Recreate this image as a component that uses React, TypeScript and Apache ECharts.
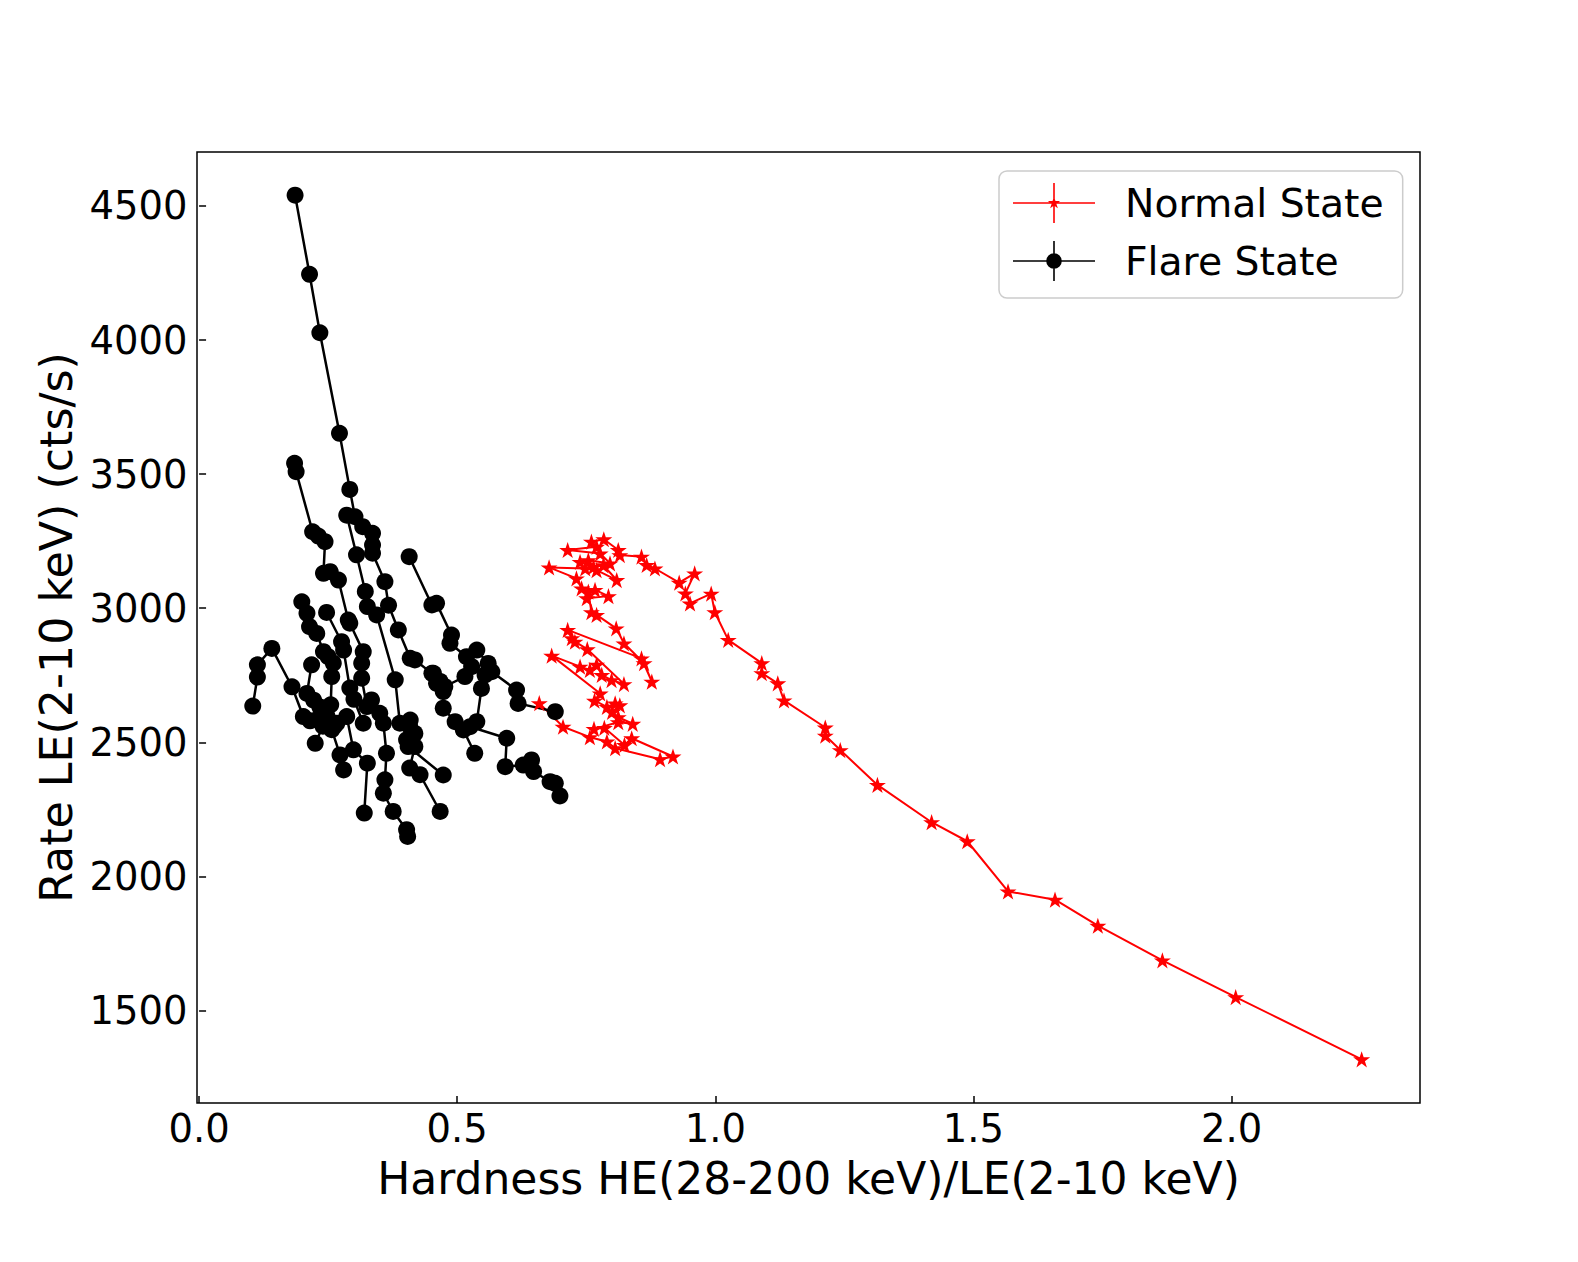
import React, { useEffect, useRef } from 'react';
import * as echarts from 'echarts';

// ---- axis extents & ticks ----
const xMin = -0.004;
const xMax = 2.365;
const yMin = 1155;
const yMax = 4701;
const xTickStep = 0.5;
const yTickStep = 500;

// ---- Normal State (hardness, rate) in time order ----
const normalState: number[][] = [
  [0.659, 2646], [0.705, 2558], [0.757, 2519], [0.790, 2503], [0.806, 2478],
  [0.893, 2437], [0.918, 2447], [0.838, 2515], [0.824, 2490], [0.785, 2554],
  [0.765, 2550], [0.812, 2575], [0.840, 2569], [0.812, 2594], [0.800, 2613],
  [0.815, 2638], [0.806, 2645], [0.790, 2632], [0.766, 2655], [0.777, 2682],
  [0.683, 2823], [0.738, 2782], [0.757, 2770], [0.770, 2789], [0.780, 2751],
  [0.799, 2732], [0.823, 2717], [0.752, 2847], [0.728, 2875], [0.722, 2888],
  [0.714, 2919], [0.857, 2813], [0.877, 2726], [0.862, 2795], [0.823, 2869],
  [0.808, 2925], [0.770, 2975], [0.760, 2985], [0.754, 3062], [0.751, 3037],
  [0.793, 3045], [0.767, 3068], [0.741, 3074], [0.731, 3111], [0.678, 3152],
  [0.748, 3148], [0.770, 3142], [0.809, 3105], [0.783, 3160], [0.764, 3154],
  [0.738, 3173], [0.754, 3179], [0.796, 3167], [0.777, 3204], [0.714, 3217],
  [0.770, 3229], [0.760, 3248], [0.784, 3257], [0.812, 3217], [0.815, 3198],
  [0.857, 3192], [0.867, 3161], [0.883, 3148], [0.930, 3095], [0.960, 3130],
  [0.942, 3055], [0.951, 3018], [0.992, 3054], [0.999, 2985], [1.025, 2882],
  [1.090, 2795], [1.090, 2758], [1.121, 2720], [1.133, 2656], [1.213, 2555],
  [1.213, 2525], [1.242, 2471], [1.314, 2341], [1.419, 2202], [1.488, 2131],
  [1.567, 1944], [1.658, 1913], [1.741, 1816], [1.866, 1687], [2.008, 1550],
  [2.252, 1318],
];

// ---- Flare State tracks (hardness, rate) ----
const flareA: number[][] = [
  [0.186, 4540], [0.214, 4245], [0.234, 4027], [0.272, 3652], [0.292, 3443],
  [0.302, 3341], [0.317, 3304], [0.336, 3279], [0.336, 3236], [0.336, 3205],
  [0.360, 3099], [0.367, 3011], [0.386, 2919], [0.409, 2813], [0.418, 2807],
  [0.451, 2757], [0.460, 2720], [0.473, 2689], [0.473, 2627], [0.496, 2577],
  [0.512, 2546], [0.534, 2459],
];
const flareB: number[][] = [
  [0.185, 3540], [0.188, 3509], [0.220, 3285], [0.231, 3269], [0.244, 3248],
  [0.241, 3130], [0.254, 3136], [0.270, 3105], [0.289, 2956], [0.292, 2944],
  [0.318, 2838], [0.315, 2795], [0.315, 2739], [0.325, 2633], [0.334, 2658],
  [0.350, 2608], [0.357, 2571], [0.363, 2459], [0.360, 2360], [0.357, 2310],
  [0.376, 2242], [0.402, 2174], [0.404, 2149],
];
const flareC: number[][] = [
  [0.286, 3347], [0.305, 3199], [0.322, 3062], [0.326, 3006], [0.344, 2975],
  [0.380, 2733], [0.389, 2571], [0.408, 2559], [0.402, 2509], [0.418, 2484],
  [0.408, 2404], [0.428, 2379], [0.467, 2242],
];
const flareD: number[][] = [
  [0.407, 3192], [0.451, 3012], [0.460, 3018], [0.489, 2900], [0.486, 2869],
  [0.518, 2819], [0.538, 2844], [0.560, 2794], [0.567, 2763], [0.615, 2695],
  [0.618, 2645], [0.690, 2614],
];
const flareE: number[][] = [
  [0.454, 2757], [0.467, 2727], [0.476, 2708], [0.515, 2745], [0.528, 2782],
  [0.554, 2751], [0.547, 2701], [0.538, 2577], [0.525, 2558], [0.596, 2515],
  [0.593, 2409], [0.628, 2415], [0.644, 2434], [0.648, 2391], [0.680, 2353],
  [0.690, 2347], [0.699, 2300],
];
const flareF: number[][] = [
  [0.409, 2583], [0.418, 2533], [0.405, 2484], [0.473, 2378],
];
const flareG: number[][] = [
  [0.104, 2635], [0.113, 2743], [0.113, 2789], [0.141, 2850], [0.180, 2707],
  [0.202, 2596], [0.215, 2580], [0.228, 2584], [0.240, 2560], [0.225, 2496],
];
const flareH: number[][] = [
  [0.199, 3024], [0.209, 2981], [0.214, 2931], [0.228, 2906], [0.241, 2838],
  [0.250, 2819], [0.260, 2795], [0.257, 2745], [0.255, 2640], [0.267, 2571],
  [0.257, 2547], [0.273, 2453], [0.280, 2397],
];
const flareI: number[][] = [
  [0.218, 2789], [0.209, 2682], [0.222, 2657], [0.234, 2632], [0.245, 2615],
  [0.247, 2578], [0.262, 2560], [0.286, 2596], [0.299, 2472], [0.326, 2422],
  [0.320, 2236],
];
const flareJ: number[][] = [
  [0.247, 2984], [0.276, 2875], [0.280, 2844], [0.292, 2702], [0.300, 2660],
  [0.318, 2571],
];
const flareTracks = [flareA, flareB, flareC, flareD, flareE, flareF, flareG, flareH, flareI, flareJ];

const STAR =
  'path://M100,0 L122.45,69.1 L195.1,69.1 L136.33,111.8 L158.78,180.9 L100,138.2 L41.22,180.9 L63.67,111.8 L4.9,69.1 L77.55,69.1 Z';
const RED_ICON =
  'path://M0,19.2L82,19.2L82,20.8L0,20.8Z M40.2,0L41.8,0L41.8,40L40.2,40Z M41,13.5L42.46,17.99L47.18,17.99L43.36,20.77L44.82,25.26L41,22.48L37.18,25.26L38.64,20.77L34.82,17.99L39.54,17.99Z';
const BLACK_ICON =
  'path://M0,19.2L82,19.2L82,20.8L0,20.8Z M40.2,0L41.8,0L41.8,40L40.2,40Z M33.2,20A7.8,7.8 0 1,1 48.8,20A7.8,7.8 0 1,1 33.2,20Z';

const FONT = 'DejaVu Sans';

export default function App() {
  const ref = useRef<HTMLDivElement>(null);
  useEffect(() => {
    const chart = echarts.init(ref.current!, null, { renderer: 'svg' });
    const flareSeries = flareTracks.map((track) => ({
      name: 'Flare State',
      type: 'line',
      data: track,
      symbol: 'circle',
      symbolSize: 17,
      itemStyle: { color: '#000000', borderWidth: 0 },
      lineStyle: { color: '#000000', width: 2.5 },
      silent: true,
    }));
    chart.setOption({
      animation: false,
      backgroundColor: '#ffffff',
      textStyle: { fontFamily: FONT },
      grid: {
        left: 197,
        top: 152,
        width: 1223,
        height: 951,
        show: true,
        borderColor: '#000000',
        borderWidth: 1.5,
        backgroundColor: 'transparent',
        containLabel: false,
        outerBoundsMode: 'none',
      },
      legend: {
        orient: 'vertical',
        left: 999,
        top: 171,
        padding: [12, 19, 17, 14],
        itemGap: 18,
        itemWidth: 82,
        itemHeight: 40,
        borderColor: '#cccccc',
        borderWidth: 1.5,
        borderRadius: 8,
        backgroundColor: '#ffffff',
        selectedMode: false,
        itemStyle: { borderWidth: 0 },
        textStyle: { fontSize: 39.3, color: '#000000', fontFamily: FONT, padding: [0, 0, 0, 25] },
        data: [
          { name: 'Normal State', icon: RED_ICON, itemStyle: { color: '#ff0000', borderWidth: 0 } },
          { name: 'Flare State', icon: BLACK_ICON, itemStyle: { color: '#000000', borderWidth: 0 } },
        ],
      },
      xAxis: {
        type: 'value',
        min: xMin,
        max: xMax,
        minInterval: xTickStep,
        maxInterval: xTickStep,
        name: 'Hardness HE(28-200 keV)/LE(2-10 keV)',
        nameLocation: 'middle',
        nameGap: 53,
        nameTextStyle: { fontSize: 44, color: '#000000', fontFamily: FONT },
        axisLine: { show: false },
        axisTick: { show: true, inside: true, length: 7, lineStyle: { color: '#000000', width: 1.5 } },
        axisLabel: {
          show: true,
          margin: 6,
          fontSize: 38.5,
          color: '#000000',
          fontFamily: FONT,
          showMinLabel: false,
          showMaxLabel: false,
          formatter: (v: number) => v.toFixed(1),
        },
        splitLine: { show: false },
      },
      yAxis: {
        type: 'value',
        min: yMin,
        max: yMax,
        minInterval: yTickStep,
        maxInterval: yTickStep,
        name: 'Rate LE(2-10 keV) (cts/s)',
        nameLocation: 'middle',
        nameGap: 116,
        nameTextStyle: { fontSize: 44.3, color: '#000000', fontFamily: FONT },
        axisLine: { show: false },
        axisTick: { show: true, inside: true, length: 7, lineStyle: { color: '#000000', width: 1.5 } },
        axisLabel: {
          show: true,
          margin: 9.5,
          fontSize: 38.5,
          color: '#000000',
          fontFamily: FONT,
          showMinLabel: false,
          showMaxLabel: false,
          formatter: (v: number) => String(Math.round(v)),
        },
        splitLine: { show: false },
      },
      series: [
        {
          name: 'Normal State',
          type: 'line',
          data: normalState,
          symbol: STAR,
          symbolSize: [17, 16.2],
          itemStyle: { color: '#ff0000', borderWidth: 0 },
          lineStyle: { color: '#ff0000', width: 2 },
          silent: true,
        },
        ...flareSeries,
      ],
    });
    return () => chart.dispose();
  }, []);
  return (
    <div
      ref={ref}
      style={{ position: 'absolute', left: 0, top: 0, width: 1578, height: 1262, background: '#ffffff' }}
    />
  );
}
